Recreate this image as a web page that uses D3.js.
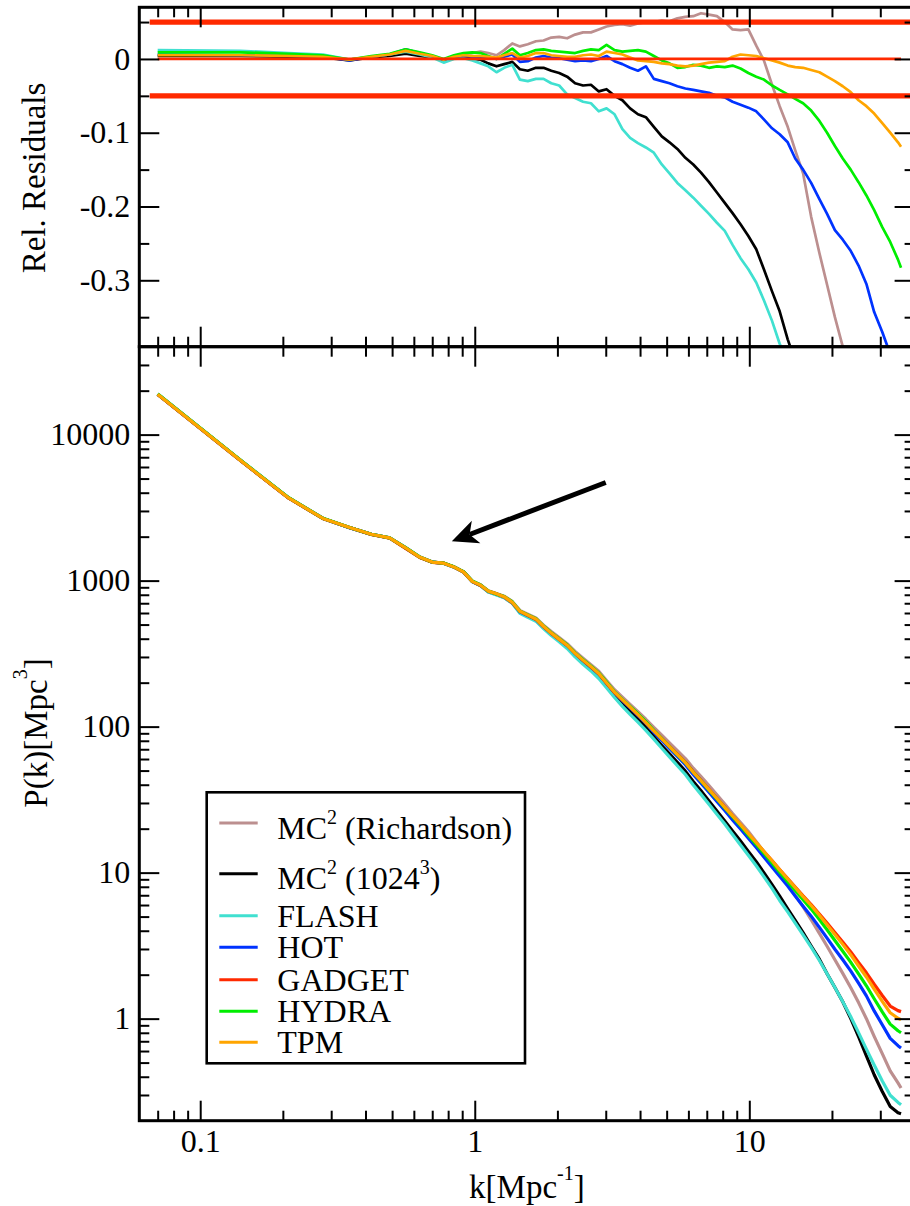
<!DOCTYPE html>
<html>
<head>
<meta charset="utf-8">
<script src="https://cdn.jsdelivr.net/npm/d3@7"></script>
<style>
  body { margin: 0; background: #fff; }
  svg { display: block; }
</style>
</head>
<body>
<svg id="chart" width="910" height="1206"></svg>
<script>
// ---- data -------------------------------------------------------------
// wavenumbers k [Mpc^-1] shared by every code
const k = [0.07,0.14,0.21,0.28,0.35,0.42,0.49,0.56,0.63,0.70,0.77,0.84,0.91,0.98,
  1.05,1.12,1.2,1.28,1.37,1.46,1.56,1.67,1.78,1.9,
  2.03,2.17,2.32,2.48,2.65,2.83,3.02,3.23,3.45,3.68,
  3.93,4.2,4.49,4.8,5.12,5.47,5.85,6.25,6.67,7.13,
  7.62,8.14,8.69,9.29,9.92,10.6,11.3,12.1,12.9,13.8,
  14.7,15.7,16.8,18.0,19.2,20.5,21.9,23.4,25.0,26.7,
  28.5,30.5,32.6,34.8,35.7];

// reference power spectrum (GADGET) P(k) [Mpc^3]
const pGadget = [18800,6640,3670,2660,2310,2070,1950,1660,1440,1335,1318,1237,1143,984,
  927,845,811,773,705,615,578,542,483,435,
  396,360,317,284,256,230,198,171,152,136,
  121,107,94.0,83.0,73.5,64.9,57.2,49.1,42.9,37.2,
  32.3,28.1,24.4,21.2,18.4,16.0,13.96,12.08,10.5,9.12,
  7.98,6.93,6.05,5.21,4.51,3.89,3.35,2.87,2.43,2.06,
  1.72,1.44,1.22,1.135,1.117];

// relative residuals P/P_GADGET - 1 of the other codes
const resRichardson = [.005,.005,.004,.003,-.001,.003,.006,.010,.008,.004,-.001,.004,.007,.008,
  .010,.008,.005,.012,.021,.017,.020,.024,.025,.029,
  .030,.028,.033,.036,.036,.040,.044,.046,.047,.045,
  .048,.050,.050,.052,.051,.055,.057,.058,.062,.060,
  .058,.050,.040,.039,.040,.018,-.002,-.035,-.064,-.092,
  -.124,-.155,-.214,-.263,-.306,-.35,-.39,-.43,-.47,-.515,
  -.56,-.60,-.64,-.68,-.70];

const resMC2 = [.004,.004,.003,.002,-.002,.002,.004,.007,.004,.002,-.002,.002,.003,.000,
  -.001,-.006,-.010,-.007,-.004,-.014,-.016,-.012,-.012,-.016,
  -.019,-.024,-.033,-.036,-.035,-.044,-.041,-.050,-.056,-.067,
  -.075,-.079,-.092,-.105,-.113,-.122,-.134,-.143,-.154,-.167,
  -.181,-.195,-.209,-.224,-.240,-.258,-.285,-.315,-.342,-.38,
  -.41,-.44,-.48,-.51,-.55,-.58,-.61,-.65,-.69,-.73,
  -.76,-.78,-.795,-.80,-.80];

const resFlash = [.012,.011,.008,.006,-.001,.003,.006,.010,.006,.002,-.005,.000,.001,-.002,
  -.006,-.010,-.018,-.012,-.008,-.028,-.030,-.027,-.027,-.033,
  -.036,-.048,-.053,-.058,-.060,-.071,-.067,-.075,-.095,-.107,
  -.114,-.120,-.127,-.143,-.155,-.168,-.178,-.188,-.199,-.210,
  -.222,-.233,-.252,-.270,-.285,-.303,-.327,-.355,-.386,-.41,
  -.435,-.46,-.49,-.52,-.55,-.58,-.61,-.64,-.67,-.70,
  -.72,-.74,-.755,-.765,-.77];

const resHot = [.006,.005,.004,.003,-.002,.003,.006,.013,.008,.004,-.001,.003,.004,.003,
  .003,.002,.000,.003,.006,-.004,-.003,.002,.004,.002,
  .001,-.001,-.003,-.002,-.003,.000,.004,-.003,-.007,-.012,
  -.016,-.010,-.027,-.030,-.033,-.037,-.040,-.042,-.044,-.046,
  -.050,-.052,-.058,-.062,-.066,-.071,-.082,-.094,-.102,-.113,
  -.135,-.150,-.168,-.19,-.21,-.232,-.245,-.26,-.28,-.305,
  -.343,-.37,-.40,-.425,-.436];

const resHydra = [.009,.009,.007,.005,-.001,.004,.007,.013,.009,.005,.000,.005,.008,.009,
  .008,.004,.000,.007,.014,.005,.008,.012,.013,.011,
  .010,.009,.008,.011,.013,.012,.019,.012,.010,.011,
  .012,.010,.004,-.002,-.006,-.012,-.011,-.008,-.009,-.012,
  -.010,-.011,-.009,-.013,-.019,-.024,-.028,-.036,-.042,-.048,
  -.054,-.060,-.070,-.084,-.100,-.118,-.135,-.150,-.167,-.185,
  -.205,-.228,-.248,-.272,-.283];

const resTpm = [.005,.005,.004,.003,-.001,.003,.006,.011,.007,.004,-.001,.003,.005,.004,
  .004,.003,.002,.005,.008,.002,.004,.008,.008,.005,
  .004,.003,.003,.005,.006,.004,.010,.008,.006,.002,
  -.002,-.003,-.004,-.006,-.007,-.009,-.010,-.009,-.007,-.005,
  -.004,-.003,.003,.006,.005,.004,.001,-.002,-.005,-.009,
  -.011,-.012,-.015,-.018,-.024,-.030,-.037,-.045,-.056,-.064,
  -.074,-.087,-.100,-.113,-.119];

// legend labels (^n marks a superscript)
const seriesNames = ["MC^2 (Richardson)", "MC^2 (1024^3)", "FLASH", "HOT", "GADGET", "HYDRA", "TPM"];
const seriesRes = [resRichardson, resMC2, resFlash, resHot, null, resHydra, resTpm];

// tolerance band drawn in the residual panel
const bandLevels = [0.05, -0.05];
const bandStartK = 0.0655;

// axis extents and ticks
const kDomain = [0.06, 40];
const pDomain = [0.2, 40000];
const resDomain = [-0.39, 0.07];
const kMajor = [0.1, 1, 10];
const kMinor = [0.07, 0.08, 0.09, 0.2, 0.3, 0.4, 0.5, 0.6, 0.7, 0.8, 0.9,
                2, 3, 4, 5, 6, 7, 8, 9, 20, 30];
const pMajor = [1, 10, 100, 1000, 10000];
const pMinor = [0.3, 0.4, 0.5, 0.6, 0.7, 0.8, 0.9, 2, 3, 4, 5, 6, 7, 8, 9,
                20, 30, 40, 50, 60, 70, 80, 90, 200, 300, 400, 500, 600, 700, 800, 900,
                2000, 3000, 4000, 5000, 6000, 7000, 8000, 9000, 20000, 30000];
const resMajor = [-0.3, -0.2, -0.1, 0];
const resMinor = [-0.35, -0.25, -0.15, -0.05, 0.05];

// annotation arrow (data coordinates: [k, P])
const arrowFrom = [3.0, 4700];
const arrowTo = [0.825, 1860];

// ---- styles -----------------------------------------------------------
const seriesColors = ["#bc8f8f", "#000000", "#40e0d0", "#0033ff", "#ff2a00", "#00ee00", "#ffa500"];
const FONT = '"Liberation Serif", "Times New Roman", Times, serif';

// ---- layout -----------------------------------------------------------
const X0 = 139.3, X1 = 914.6;
const YT = 7.3, YM = 346.7, YB = 1120.7;

const x = d3.scaleLog().domain(kDomain).range([X0, X1]);
const yRes = d3.scaleLinear().domain(resDomain).range([YM, YT]);
const yP = d3.scaleLog().domain(pDomain).range([YB, YM]);

const svg = d3.select("#chart");
svg.append("rect").attr("width", 910).attr("height", 1206).attr("fill", "#fff");

const defs = svg.append("defs");
defs.append("clipPath").attr("id", "clipTop").append("rect")
  .attr("x", X0).attr("y", YT).attr("width", X1 - X0).attr("height", YM - YT);
defs.append("clipPath").attr("id", "clipBot").append("rect")
  .attr("x", X0).attr("y", YM).attr("width", X1 - X0).attr("height", YB - YM);

// build the series
const series = seriesNames.map((name, i) => {
  const res = seriesRes[i];
  const pts = k.map((kv, j) => {
    const p = res ? pGadget[j] * (1 + res[j]) : pGadget[j];
    return { k: kv, p: p, r: p / pGadget[j] - 1 };
  });
  return { name, color: seriesColors[i], pts, ref: !res };
});

// ---- residual panel ---------------------------------------------------
const gTop = svg.append("g").attr("clip-path", "url(#clipTop)");
const lineRes = d3.line().x(d => x(d.k)).y(d => yRes(d.r));
const topOrder = series.filter(s => !s.ref).concat(series.filter(s => s.ref));
gTop.selectAll("path.res").data(topOrder).join("path")
  .attr("class", "res")
  .attr("d", s => lineRes(s.pts))
  .attr("fill", "none")
  .attr("stroke", s => s.color)
  .attr("stroke-width", 2.7)
  .attr("stroke-linejoin", "round");

gTop.selectAll("line.band").data(bandLevels).join("line")
  .attr("class", "band")
  .attr("x1", x(bandStartK)).attr("x2", x(kDomain[1]))
  .attr("y1", d => yRes(d)).attr("y2", d => yRes(d))
  .attr("stroke", seriesColors[4]).attr("stroke-width", 5.3);

// ---- power spectrum panel ---------------------------------------------
const gBot = svg.append("g").attr("clip-path", "url(#clipBot)");
const lineP = d3.line().x(d => x(d.k)).y(d => yP(d.p));
gBot.selectAll("path.pk").data(series).join("path")
  .attr("class", "pk")
  .attr("d", s => lineP(s.pts))
  .attr("fill", "none")
  .attr("stroke", s => s.color)
  .attr("stroke-width", 3.2)
  .attr("stroke-linejoin", "round");

// ---- axes -------------------------------------------------------------
function axisGroup(gen, tx, ty, labels) {
  const g = svg.append("g").attr("transform", `translate(${tx},${ty})`).call(gen);
  g.select(".domain").remove();
  g.selectAll(".tick line").attr("stroke", "#000").attr("stroke-width", 2);
  if (!labels) g.selectAll(".tick text").remove();
  else g.selectAll(".tick text")
    .attr("font-family", FONT).attr("font-size", 32).attr("fill", "#000");
  return g;
}
const fmtRes = d => (d === 0 ? "0" : String(d));
const fmtP = d => String(d);
const fmtK = d => String(d);

// x ticks on every horizontal edge
[[kMajor, 20], [kMinor, 10]].forEach(([vals, len]) => {
  axisGroup(d3.axisTop(x).tickValues(vals).tickSize(-len), 0, YT, false);
  axisGroup(d3.axisBottom(x).tickValues(vals).tickSize(-len), 0, YM, false);
  axisGroup(d3.axisTop(x).tickValues(vals).tickSize(-len), 0, YM, false);
});
axisGroup(d3.axisBottom(x).tickValues(kMajor).tickSize(-20).tickPadding(9).tickFormat(fmtK), 0, YB, true);
axisGroup(d3.axisBottom(x).tickValues(kMinor).tickSize(-10), 0, YB, false);

// residual y ticks
axisGroup(d3.axisLeft(yRes).tickValues(resMajor).tickSize(-20).tickPadding(9).tickFormat(fmtRes), X0, 0, true);
axisGroup(d3.axisLeft(yRes).tickValues(resMinor).tickSize(-10), X0, 0, false);
axisGroup(d3.axisRight(yRes).tickValues(resMajor).tickSize(-20), X1, 0, false);
axisGroup(d3.axisRight(yRes).tickValues(resMinor).tickSize(-10), X1, 0, false);

// P(k) y ticks
axisGroup(d3.axisLeft(yP).tickValues(pMajor).tickSize(-20).tickPadding(9).tickFormat(fmtP), X0, 0, true);
axisGroup(d3.axisLeft(yP).tickValues(pMinor).tickSize(-10), X0, 0, false);
axisGroup(d3.axisRight(yP).tickValues(pMajor).tickSize(-20), X1, 0, false);
axisGroup(d3.axisRight(yP).tickValues(pMinor).tickSize(-10), X1, 0, false);

// frames
const frame = svg.append("g").attr("fill", "none").attr("stroke", "#000").attr("stroke-width", 3);
frame.append("rect").attr("x", X0).attr("y", YT).attr("width", X1 - X0).attr("height", YM - YT);
frame.append("rect").attr("x", X0).attr("y", YM).attr("width", X1 - X0).attr("height", YB - YM);

// ---- text with superscripts ------------------------------------------
function richText(sel, label, supSize, raise) {
  const parts = label.split(/\^(-?\d+)/);
  parts.forEach((t, i) => {
    if (!t) return;
    const sup = i % 2 === 1;
    const ts = sel.append("tspan").text(t);
    if (sup) ts.attr("font-size", supSize).attr("dy", -raise);
    else if (i > 0) ts.attr("dy", raise);
  });
  return sel;
}

// axis titles
richText(svg.append("text").attr("transform", `translate(45,178) rotate(-90)`)
  .attr("text-anchor", "middle").attr("font-family", FONT).attr("font-size", 33),
  "Rel. Residuals", 20, 0);
richText(svg.append("text").attr("transform", `translate(47,733) rotate(-90)`)
  .attr("text-anchor", "middle").attr("font-family", FONT).attr("font-size", 33),
  "P(k)[Mpc^3]", 20, 20);
richText(svg.append("text").attr("x", (X0 + X1) / 2).attr("y", 1198)
  .attr("text-anchor", "middle").attr("font-family", FONT).attr("font-size", 33),
  "k[Mpc^-1]", 20, 18);

// ---- arrow annotation -------------------------------------------------
(function () {
  const sx = x(arrowFrom[0]), sy = yP(arrowFrom[1]);
  const tx = x(arrowTo[0]), ty = yP(arrowTo[1]);
  const len = Math.hypot(tx - sx, ty - sy);
  const ux = (tx - sx) / len, uy = (ty - sy) / len;
  const px = -uy, py = ux;
  const headL = 26, headW = 12, notch = 19;
  svg.append("line")
    .attr("x1", sx).attr("y1", sy)
    .attr("x2", tx - ux * notch).attr("y2", ty - uy * notch)
    .attr("stroke", "#000").attr("stroke-width", 5);
  const bx = tx - ux * headL, by = ty - uy * headL;
  const nx = tx - ux * notch, ny = ty - uy * notch;
  svg.append("path")
    .attr("d", `M${tx},${ty} L${bx + px * headW},${by + py * headW} L${nx},${ny} L${bx - px * headW},${by - py * headW} Z`)
    .attr("fill", "#000");
})();

// ---- legend -----------------------------------------------------------
const LX = 206.7, LY = 792.3, LW = 318.3, LH = 271;
const rowBase = [46.2, 97, 134.4, 166, 198.4, 230, 261];
const legend = svg.append("g");
legend.append("rect").attr("x", LX).attr("y", LY).attr("width", LW).attr("height", LH)
  .attr("fill", "#fff").attr("stroke", "#000").attr("stroke-width", 2.6);
series.forEach((s, i) => {
  const base = LY + rowBase[i];
  const hasSup = s.name.includes("^");
  const ly = base - (hasSup ? 15.5 : 11);
  legend.append("line").attr("x1", 219.3).attr("x2", 257.7).attr("y1", ly).attr("y2", ly)
    .attr("stroke", s.color).attr("stroke-width", 3);
  richText(legend.append("text").attr("x", 277.3).attr("y", base)
    .attr("font-family", FONT).attr("font-size", 32).attr("fill", "#000"),
    s.name, 20, 15);
});
</script>
</body>
</html>
